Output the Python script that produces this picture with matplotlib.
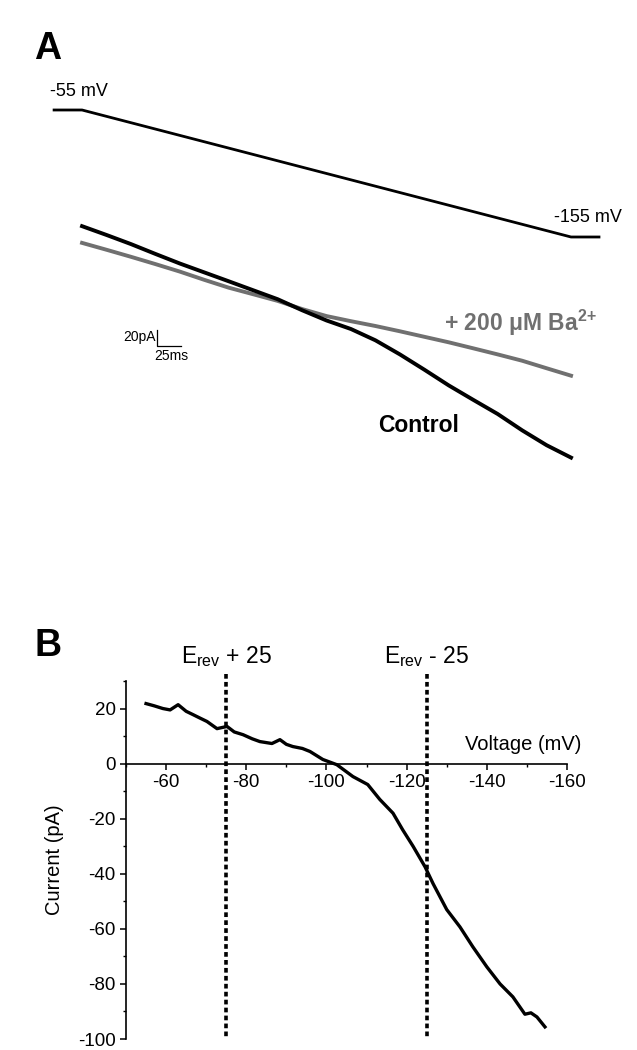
import numpy as np
import matplotlib
matplotlib.use("Agg")
import matplotlib.pyplot as plt
from matplotlib.ticker import MultipleLocator

plt.rcParams['font.family'] = ['Liberation Sans', 'DejaVu Sans']
plt.rcParams['mathtext.fontset'] = 'custom'
plt.rcParams['mathtext.rm'] = 'Liberation Sans'
plt.rcParams['mathtext.bf'] = 'Liberation Sans:bold'
plt.rcParams['axes.unicode_minus'] = False

# panel A: voltage protocol (ms, mV)
step_t = [0, 30, 530, 560]
step_v = [-55, -55, -155, -155]

# panel A: currents during the ramp (ms, pA)
ramp_t = [30, 55, 80, 105, 130, 155, 180, 205, 230, 255, 280,
          305, 330, 355, 380, 405, 430, 455, 480, 505, 530]
control_i = [29.8, 18.8, 7.4, -4.9, -16.9, -28.0, -39.1, -50.3, -61.5, -75.3, -88.1,
             -98.8, -112.9, -130.5, -149.6, -169.3, -187.3, -205.0, -225.4, -244.0, -259.5]
barium_i = [8.9, 0.3, -8.5, -17.6, -27.0, -37.3, -47.1, -55.3, -63.6, -73.8, -82.6,
            -89.0, -95.0, -101.6, -108.5, -115.4, -122.9, -130.5, -138.4, -147.8, -157.1]

# panel B: Ba-sensitive current vs voltage
iv_v = [-55.0, -57.0, -59.2, -61.0, -63.0, -65.0, -66.7, -68.5, -70.2, -72.7, -75.2, -77.0,
        -79.2, -81.5, -83.4, -86.4, -88.4, -90.0, -91.6, -94.0, -95.9, -99.1, -102.6,
        -106.6, -110.3, -113.3, -116.6, -119.0, -121.6, -124.6, -126.6, -130.0, -133.3,
        -136.5, -140.0, -143.3, -146.5, -149.5, -151.0, -152.5, -154.5]
iv_i = [21.8, 21.0, 20.0, 19.5, 21.4, 19.0, 17.8, 16.5, 15.3, 12.7, 13.5, 11.5,
        10.5, 9.0, 8.0, 7.3, 8.7, 7.0, 6.2, 5.5, 4.4, 1.5, -0.4,
        -4.7, -7.6, -13.0, -18.0, -24.0, -30.0, -37.5, -43.6, -53.0, -59.3,
        -66.5, -73.8, -80.0, -84.7, -91.0, -90.5, -92.0, -95.6]
erev_lines = [-75, -125]
erev_labels = [r"E$_{\mathrm{rev}}$ + 25", r"E$_{\mathrm{rev}}$ - 25"]

W, H = 637, 1050
fig = plt.figure(figsize=(W / 100, H / 100), dpi=100)

# ---- panel A ----
px_per_ms = 0.978
t0_px = 52.7
axA = fig.add_axes([0, 1 - 500 / H, 1, 500 / H])
axA.set_xlim(-t0_px / px_per_ms, (W - t0_px) / px_per_ms)
axA.set_ylim(-500 / 0.8 + 250 / 0.8, 250 / 0.8)
axA.axis('off')
axV = axA.twinx()
axV.set_ylim(-55 - (500 - 110) / 1.27, -55 + 110 / 1.27)
axV.axis('off')

axV.plot(step_t, step_v, color='black', lw=2.0, solid_capstyle='butt')
axV.text(-3, -40.8, "-55 mV", fontsize=13, ha='left', va='center')
axV.text(513, -139.3, "-155 mV", fontsize=13, ha='left', va='center')

axA.plot(ramp_t, barium_i, color='#707070', lw=2.8)
axA.plot(ramp_t, control_i, color='black', lw=2.8)
axA.text(400, -91, r"+ 200 μM Ba$^{\mathbf{2\!+}}$", fontsize=16.5, fontweight='bold',
         color='#707070', ha='left', va='center')
axA.text(333, -219, "Control", fontsize=16.5, fontweight='bold', ha='left', va='center')

# scale bar
axA.plot([106.6, 106.6, 131.6], [-100, -120, -120], color='black', lw=0.9)
axA.text(105, -109, "20pA", fontsize=10, ha='right', va='center')
axA.text(104, -132, "25ms", fontsize=10, ha='left', va='center')

fig.text(48 / W, 1 - 49 / H, "A", fontsize=27, fontweight='bold', ha='center', va='center')
fig.text(48 / W, 1 - 646 / H, "B", fontsize=27, fontweight='bold', ha='center', va='center')

# ---- panel B ----
axB = fig.add_axes([126 / W, 11 / H, (567 - 126) / W, (1039 - 681) / H])
axB.set_xlim(-50, -160)
axB.set_ylim(-100, 30)
axB.spines['top'].set_visible(False)
axB.spines['right'].set_visible(False)
axB.spines['bottom'].set_position(('data', 0))
axB.spines['left'].set_linewidth(1.2)
axB.spines['bottom'].set_linewidth(1.2)
axB.xaxis.set_minor_locator(MultipleLocator(10))
axB.yaxis.set_minor_locator(MultipleLocator(10))
axB.set_xticks([-60, -80, -100, -120, -140, -160])
axB.set_yticks([-100, -80, -60, -40, -20, 0, 20])
axB.tick_params(which='major', direction='out', length=4.5, width=1.1, labelsize=13.5, pad=3)
axB.tick_params(which='minor', direction='out', length=2.5, width=1.0)
axB.set_ylabel("Current (pA)", fontsize=14.5, labelpad=10)

axB.plot(iv_v, iv_i, color='black', lw=2.4)
for v, lab in zip(erev_lines, erev_labels):
    axB.plot([v, v], [32.5, -99.5], color='black', lw=2.6,
             linestyle=(0, (1.3, 0.9)), clip_on=False)
    axB.text(v, 36.5, lab, fontsize=16.5, ha='center', va='baseline')
axB.text(-163.5, 6.9, "Voltage (mV)", fontsize=14.5, ha='right', va='center', clip_on=False)

fig.savefig("out.png", dpi=100)
